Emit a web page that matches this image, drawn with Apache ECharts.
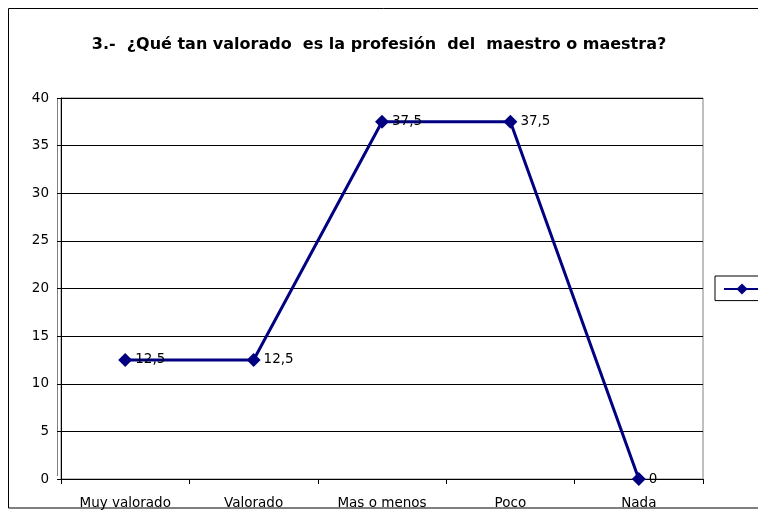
<!DOCTYPE html>
<html><head><meta charset="utf-8">
<script src="https://cdn.jsdelivr.net/npm/echarts@6/dist/echarts.min.js"></script>
<style>html,body{margin:0;padding:0;background:#fff}#c{width:758px;height:510px}</style>
</head><body><div id="c"></div>
<script>
const titleText = '3.-  ¿Qué tan valorado  es la profesión  del  maestro o maestra?';
const categories = ['Muy valorado', 'Valorado', 'Mas o menos', 'Poco', 'Nada'];
const values = [12.5, 12.5, 37.5, 37.5, 0];
const yTicks = { min: 0, max: 40, interval: 5 };

const chart = echarts.init(document.getElementById('c'), null, {renderer: 'canvas'});
const font = '"DejaVu Sans", Arial, sans-serif';
chart.setOption({
  animation: false,
  backgroundColor: '#fff',
  title: {
    text: titleText, left: 'center', top: 32,
    textStyle: { fontFamily: font, fontSize: 16, fontWeight: 'bold', color: '#000' }
  },
  graphic: [{
    type: 'rect', shape: { x: 8.5, y: 8.5, width: 800, height: 499.5 },
    style: { fill: 'none', stroke: '#000', lineWidth: 1 }, silent: true, z: -1
  }, {
    type: 'line', shape: { x1: 57.5, y1: 98, x2: 57.5, y2: 476 },
    style: { stroke: '#808080', lineWidth: 1 }, silent: true
  }],
  legend: {
    left: 715, top: 276, data: ['S1'],
    formatter: () => '',
    itemWidth: 36, itemHeight: 14, itemGap: 0,
    padding: [6, 30, 6, 8],
    borderColor: '#000', borderWidth: 1,
    textStyle: { fontSize: 11 }
  },
  grid: { left: 61, right: 55, top: 98, bottom: 31, show: true, borderColor: '#808080', borderWidth: 1 },
  xAxis: {
    type: 'category', data: categories, boundaryGap: true,
    axisLine: { lineStyle: { color: '#000', width: 1 } },
    axisTick: { show: true, length: 5, lineStyle: { color: '#000' } },
    axisLabel: { fontFamily: font, fontSize: 13.5, color: '#000', margin: 17 },
    splitLine: { show: false }
  },
  yAxis: {
    type: 'value', min: yTicks.min, max: yTicks.max, interval: yTicks.interval,
    axisLine: { show: true, lineStyle: { color: '#000', width: 1 } },
    axisTick: { show: true, length: 4, lineStyle: { color: '#000' } },
    axisLabel: { fontFamily: font, fontSize: 13.5, color: '#000', margin: 12 },
    splitLine: { show: true, lineStyle: { color: '#000', width: 1 } }
  },
  series: [{
    name: 'S1', type: 'line', data: values,
    lineStyle: { color: '#000080', width: 3 },
    itemStyle: { color: '#000080' },
    symbol: 'diamond', symbolSize: 14,
    label: {
      show: true, position: 'right', distance: 3,
      fontFamily: font, fontSize: 13.5, color: '#000',
      formatter: p => String(p.value).replace('.', ',')
    }
  }]
});
</script></body></html>
